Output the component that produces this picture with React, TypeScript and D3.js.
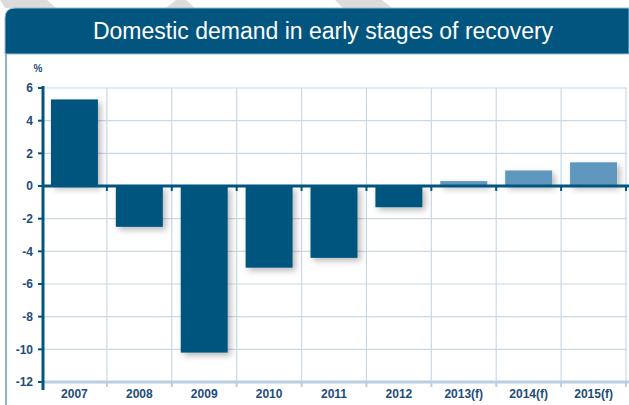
import * as d3 from 'd3';

const years = ['2007', '2008', '2009', '2010', '2011', '2012', '2013(f)', '2014(f)', '2015(f)'];
const growth = [5.3, -2.5, -10.2, -5.0, -4.4, -1.3, 0.3, 0.95, 1.45];
const forecast = [false, false, false, false, false, false, true, true, true];
const yTicks = [6, 4, 2, 0, -2, -4, -6, -8, -10, -12];

const title = 'Domestic demand in early stages of recovery';
const unit = '%';

const W = 629;
const H = 405;
const margin = { top: 88, right: 3, bottom: 23, left: 42 };

const dark = '#02557f';
const light = '#5e97bf';
const grid = '#c9d9e8';
const labelColor = '#1c4c78';

export default function App() {
  const x = d3
    .scaleBand<string>()
    .domain(years)
    .range([margin.left, W - margin.right])
    .paddingInner(0.276)
    .paddingOuter(0.138);

  const y = d3.scaleLinear().domain([-12, 6]).range([H - margin.bottom, margin.top]);

  const step = x.step();
  const gap = (step * x.paddingInner()) / 2;
  // band boundaries for vertical grid + ticks
  const bounds = years.map((d) => (x(d) || 0) - gap).concat([(x(years[years.length - 1]) || 0) + x.bandwidth() + gap]);

  const font = 'Arial, "Liberation Sans", Helvetica, sans-serif';

  return (
    <svg width={W} height={H} style={{ position: 'absolute', left: 0, top: 0, background: '#fff' }}>
      <defs>
        <filter id="shadow" x="-20%" y="-20%" width="150%" height="150%">
          <feDropShadow dx="3" dy="3" stdDeviation="3" floodColor="#000" floodOpacity="0.28" />
        </filter>
      </defs>

      {/* grey stripes behind header */}
      <polygon points="0,0 47,0 56,8 5,8" fill="#dcdcdc" />
      <polygon points="176,0 186,0 195,8 166,8" fill="#dcdcdc" />
      <polygon points="335,0 382,0 392,8 343,8" fill="#dcdcdc" />

      {/* frame + header */}
      <line x1={6} x2={6} y1={30} y2={H} stroke="#8db4cf" strokeWidth={2} />
      <path d={`M5,${54} V18 Q5,8 15,8 H${W} V54 Z`} fill={dark} stroke="#9bbad0" strokeWidth={1} />
      <text x={323} y={39} textAnchor="middle" fill="#fff" fontFamily={font} fontSize={23}>
        {title}
      </text>

      {/* grid */}
      {yTicks.map((t) => (
        <line key={'h' + t} x1={margin.left} x2={W - 2} y1={y(t)} y2={y(t)} stroke={grid} strokeWidth={1.2} />
      ))}
      {bounds.slice(1).map((b, i) => (
        <line key={'v' + i} x1={b} x2={b} y1={y(6)} y2={y(-12)} stroke={grid} strokeWidth={1.2} />
      ))}

      {/* bars */}
      <g filter="url(#shadow)">
        {years.map((d, i) => (
          <rect
            key={d}
            x={x(d)}
            y={y(Math.max(0, growth[i]))}
            width={x.bandwidth()}
            height={Math.abs(y(growth[i]) - y(0))}
            fill={forecast[i] ? light : dark}
          />
        ))}
      </g>

      {/* bottom axis */}
      <line x1={margin.left} x2={W} y1={y(-12)} y2={y(-12)} stroke="#b9cee1" strokeWidth={3} />
      {bounds.slice(1).map((b, i) => (
        <line key={'bt' + i} x1={b} x2={b} y1={y(-12)} y2={y(-12) + 5} stroke="#b9cee1" strokeWidth={2} />
      ))}

      {/* zero line */}
      <line x1={margin.left} x2={W} y1={y(0)} y2={y(0)} stroke={dark} strokeWidth={3} />
      {bounds.slice(1).map((b, i) => (
        <line key={'zt' + i} x1={b} x2={b} y1={y(0)} y2={y(0) + 5} stroke={dark} strokeWidth={2} />
      ))}

      {/* y axis */}
      <line x1={margin.left + 1} x2={margin.left + 1} y1={y(6) - 2} y2={y(-12) + 8} stroke={dark} strokeWidth={3} />
      {yTicks.map((t) => (
        <g key={'yt' + t}>
          <line x1={margin.left - 4} x2={margin.left} y1={y(t)} y2={y(t)} stroke={dark} strokeWidth={2} />
          <text
            x={33}
            y={y(t)}
            dy="0.35em"
            textAnchor="end"
            fill={labelColor}
            fontFamily={font}
            fontSize={12}
            fontWeight="bold"
          >
            {t}
          </text>
        </g>
      ))}
      <text x={38} y={72} textAnchor="middle" fill={labelColor} fontFamily={font} fontSize={10} fontWeight="bold">
        {unit}
      </text>

      {/* x labels */}
      {years.map((d) => (
        <text
          key={'xl' + d}
          x={(x(d) || 0) + x.bandwidth() / 2}
          y={398}
          textAnchor="middle"
          fill={labelColor}
          fontFamily={font}
          fontSize={12}
          fontWeight="bold"
        >
          {d}
        </text>
      ))}
    </svg>
  );
}
